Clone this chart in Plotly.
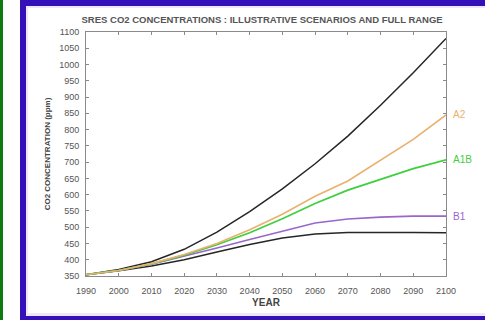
import plotly.graph_objects as go

# SRES CO2 concentration projections (ppm), one value per decade
years = [1990, 2000, 2010, 2020, 2030, 2040, 2050, 2060, 2070, 2080, 2090, 2100]
range_upper = [354, 370, 394, 432, 485, 548, 618, 695, 780, 875, 975, 1080]
a2 = [354, 367, 388, 416, 450, 492, 540, 595, 642, 705, 770, 845]
a1b = [354, 367, 387, 414, 446, 483, 526, 573, 614, 648, 680, 707]
b1 = [354, 367, 386, 410, 436, 462, 488, 513, 525, 531, 534, 534]
range_lower = [354, 366, 381, 400, 424, 447, 467, 479, 484, 485, 484, 483]

y_ticks = list(range(350, 1101, 50))
x_ticks = list(range(1990, 2101, 10))

W, H = 485, 320
L, R, T, B = 86, 446, 32, 276  # plot-area pixel box


def px(x):
    return (x - L) / (R - L)


def py(y):
    return (B - y) / (B - T)


fig = go.Figure()

series = [
    ("range_upper", range_upper, "#262626", 1.5, None),
    ("range_lower", range_lower, "#262626", 1.5, None),
    ("B1", b1, "#9966cc", 1.6, "B1"),
    ("A1B", a1b, "#3fcf3f", 1.8, "A1B"),
    ("A2", a2, "#eab06e", 1.6, "A2"),
]
for name, vals, color, width, label in series:
    fig.add_trace(go.Scatter(x=years, y=vals, mode="lines", name=name,
                             line=dict(color=color, width=width),
                             showlegend=False, hoverinfo="skip"))
    if label:
        fig.add_annotation(x=years[-1], y=vals[-1], text=label, showarrow=False,
                           xanchor="left", yanchor="middle", xshift=5,
                           font=dict(family="Liberation Sans", size=10, color=color))

shapes = [
    # green strip on the far left
    dict(type="rect", xref="paper", yref="paper", x0=px(0), x1=px(3), y0=py(H), y1=py(0),
         fillcolor="#0f7a12", line=dict(width=0), layer="below"),
    # blue frame
    dict(type="rect", xref="paper", yref="paper", x0=px(20), x1=px(W + 5), y0=py(H), y1=py(0),
         fillcolor="#3410b8", line=dict(width=0), layer="below"),
    # lavender inner edge
    dict(type="rect", xref="paper", yref="paper", x0=px(26), x1=px(W + 5), y0=py(316), y1=py(6),
         fillcolor="#efe6fb", line=dict(width=0), layer="below"),
    # white panel
    dict(type="rect", xref="paper", yref="paper", x0=px(28), x1=px(W + 5), y0=py(313), y1=py(8),
         fillcolor="#ffffff", line=dict(width=0), layer="below"),
]

axis_common = dict(
    showgrid=False, zeroline=False, showline=True, linecolor="#8a8a8a", linewidth=1,
    mirror="ticks", ticks="inside", ticklen=3, tickcolor="#8a8a8a",
    tickfont=dict(family="Liberation Sans", size=9, color="#555555"),
)

fig.update_layout(
    width=W, height=H,
    margin=dict(l=L, r=W - R, t=T, b=H - B, pad=0),
    paper_bgcolor="#ffffff", plot_bgcolor="rgba(0,0,0,0)",
    shapes=shapes,
    title=dict(text="<b>SRES CO2 CONCENTRATIONS : ILLUSTRATIVE SCENARIOS AND FULL RANGE</b>",
               x=(L + R) / 2 / W - 0.008, xanchor="center", y=1 - 20 / H, yanchor="middle",
               font=dict(family="Liberation Sans", size=9.5, color="#555555")),
    xaxis=dict(range=[1990, 2100], tickvals=x_ticks, ticktext=[str(v) for v in x_ticks],
               ticklabelstandoff=6,
               title=dict(text="<b>YEAR</b>", standoff=4,
                          font=dict(family="Liberation Sans", size=10, color="#444444")),
               **axis_common),
    yaxis=dict(range=[350, 1100], tickvals=y_ticks, ticktext=[str(v) for v in y_ticks],
               ticklabelstandoff=4,
               title=dict(text="<b>CO2 CONCENTRATION (ppm)</b>", standoff=7,
                          font=dict(family="Liberation Sans", size=8, color="#444444")),
               **axis_common),
)

fig.write_html("out.html")
